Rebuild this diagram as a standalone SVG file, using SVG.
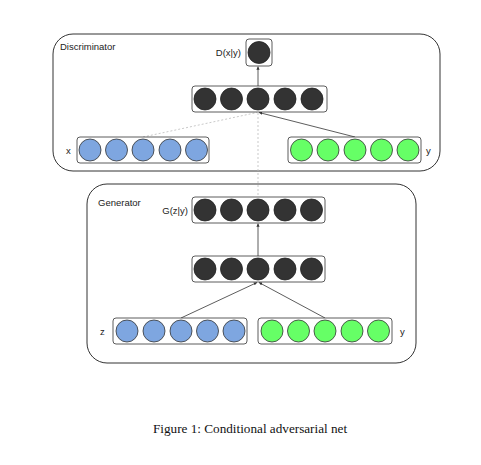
<svg xmlns="http://www.w3.org/2000/svg" width="481" height="465" viewBox="0 0 481 465">
<defs>
<marker id="ah" viewBox="0 0 6 6" refX="6" refY="3" markerWidth="4" markerHeight="4" orient="auto"><path d="M0,0 L6,3 L0,6 z" fill="#333"/></marker>
<style>
.outer{fill:#fff;stroke:#333;stroke-width:1}
.box{fill:#fff;stroke:#333;stroke-width:0.8}
.dk{fill:#333;stroke:#222;stroke-width:0.8}
.bl{fill:#7ea6e0;stroke:#333;stroke-width:0.8}
.gr{fill:#66ff66;stroke:#333;stroke-width:0.8}
.t{font-family:"Liberation Sans",Arial,sans-serif;font-size:9.5px;fill:#222}
.cap{font-family:"Liberation Serif","Times New Roman",serif;font-size:13.2px;fill:#111}
.ln{stroke:#333;stroke-width:0.8;fill:none}
.dash{stroke:#bbb;stroke-width:0.8;stroke-dasharray:2,2;fill:none}
</style>
</defs>
<rect width="481" height="465" fill="#fff"/>
<g id="discriminator">
<rect class="outer" x="53" y="34" width="387" height="137" rx="20"/>
<text class="t" x="60" y="50">Discriminator</text>
</g>
<g id="generator">
<rect class="outer" x="87" y="184" width="329" height="179" rx="20"/>
<text class="t" x="98" y="206">Generator</text>
</g>
<g id="connectors">
<line class="ln" x1="258" y1="87" x2="258" y2="66.5" marker-end="url(#ah)"/>
<line class="dash" x1="143" y1="137" x2="257" y2="112.5"/>
<line class="ln" x1="355" y1="137" x2="259" y2="112.5" marker-end="url(#ah)"/>
<line class="dash" x1="258" y1="113" x2="258" y2="197"/>
<line class="ln" x1="258" y1="256" x2="258" y2="223.5" marker-end="url(#ah)"/>
<line class="ln" x1="181" y1="318" x2="257" y2="282.5" marker-end="url(#ah)"/>
<line class="ln" x1="325" y1="318" x2="259" y2="282.5" marker-end="url(#ah)"/>
</g>
<g id="d_out">
<rect class="box" x="246" y="39" width="26" height="27" rx="3"/>
<circle class="dk" cx="259" cy="52.5" r="11"/>
<text class="t" x="241" y="56" text-anchor="end">D(x|y)</text>
</g>
<g id="d_hidden">
<rect class="box" x="192" y="86" width="135" height="26" rx="3"/>
<circle class="dk" cx="205" cy="99" r="11"/>
<circle class="dk" cx="231.5" cy="99" r="11"/>
<circle class="dk" cx="258" cy="99" r="11"/>
<circle class="dk" cx="285" cy="99" r="11"/>
<circle class="dk" cx="312" cy="99" r="11"/>
</g>
<g id="d_x">
<rect class="box" x="77" y="137" width="132" height="26" rx="3"/>
<circle class="bl" cx="90" cy="150" r="11"/>
<circle class="bl" cx="116.5" cy="150" r="11"/>
<circle class="bl" cx="143" cy="150" r="11"/>
<circle class="bl" cx="170" cy="150" r="11"/>
<circle class="bl" cx="196.5" cy="150" r="11"/>
<text class="t" x="66" y="154">x</text>
</g>
<g id="d_y">
<rect class="box" x="288" y="137" width="133" height="26" rx="3"/>
<circle class="gr" cx="301.5" cy="150" r="11"/>
<circle class="gr" cx="328" cy="150" r="11"/>
<circle class="gr" cx="355" cy="150" r="11"/>
<circle class="gr" cx="381.5" cy="150" r="11"/>
<circle class="gr" cx="408" cy="150" r="11"/>
<text class="t" x="426" y="154">y</text>
</g>
<g id="g_out">
<rect class="box" x="192" y="197" width="133" height="26" rx="3"/>
<circle class="dk" cx="205" cy="210" r="11"/>
<circle class="dk" cx="231.5" cy="210" r="11"/>
<circle class="dk" cx="258" cy="210" r="11"/>
<circle class="dk" cx="285" cy="210" r="11"/>
<circle class="dk" cx="311.5" cy="210" r="11"/>
<text class="t" x="188" y="214" text-anchor="end">G(z|y)</text>
</g>
<g id="g_hidden">
<rect class="box" x="192" y="256" width="133" height="26" rx="3"/>
<circle class="dk" cx="205" cy="269" r="11"/>
<circle class="dk" cx="231.5" cy="269" r="11"/>
<circle class="dk" cx="258" cy="269" r="11"/>
<circle class="dk" cx="285" cy="269" r="11"/>
<circle class="dk" cx="311.5" cy="269" r="11"/>
</g>
<g id="g_z">
<rect class="box" x="113" y="318" width="134" height="26" rx="3"/>
<circle class="bl" cx="127" cy="331" r="11"/>
<circle class="bl" cx="154" cy="331" r="11"/>
<circle class="bl" cx="181" cy="331" r="11"/>
<circle class="bl" cx="207.5" cy="331" r="11"/>
<circle class="bl" cx="234" cy="331" r="11"/>
<text class="t" x="100" y="335">z</text>
</g>
<g id="g_y">
<rect class="box" x="258" y="318" width="134" height="26" rx="3"/>
<circle class="gr" cx="272" cy="331" r="11"/>
<circle class="gr" cx="298.5" cy="331" r="11"/>
<circle class="gr" cx="325" cy="331" r="11"/>
<circle class="gr" cx="352" cy="331" r="11"/>
<circle class="gr" cx="378.5" cy="331" r="11"/>
<text class="t" x="400" y="335">y</text>
</g>
<text class="cap" x="153" y="433">Figure 1: Conditional adversarial net</text>
</svg>
